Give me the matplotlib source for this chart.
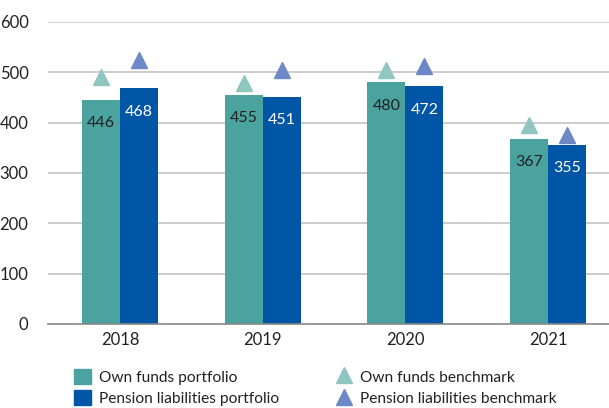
import matplotlib
matplotlib.use("Agg")
import matplotlib.pyplot as plt
from matplotlib.patches import Patch
from matplotlib.lines import Line2D
import numpy as np

years = ["2018", "2019", "2020", "2021"]
own_funds_portfolio = [446, 455, 480, 367]
pension_portfolio = [468, 451, 472, 355]
own_funds_benchmark = [490, 479, 505, 396]
pension_benchmark = [525, 505, 513, 376]
yticks = [0, 100, 200, 300, 400, 500, 600]

TEAL = "#4aa39f"
BLUE = "#0056a6"
TEAL_L = "#8fc6c2"
BLUE_L = "#6e87c7"

plt.rcParams['font.family'] = ['Lato', 'DejaVu Sans']

fig = plt.figure(figsize=(6.09, 4.08), dpi=100)
ax = fig.add_axes([48/609, 1-324/408, 1-48/609, (324-22)/408])

x = np.arange(len(years)) * 1.0
w = 0.266
ax.set_xlim(-0.505, 3.427)
ax.set_ylim(0, 600)

for yv in yticks[1:]:
    ax.axhline(yv, color="#c4c4c4", lw=1.2, zorder=0)

ax.bar(x - w/2, own_funds_portfolio, w, color=TEAL, zorder=2)
ax.bar(x + w/2, pension_portfolio, w, color=BLUE, zorder=2)

for xi, v in zip(x, own_funds_portfolio):
    ax.text(xi - w/2, v - 46, str(v), ha="center", va="center", fontsize=11.5, color="#222222", zorder=3)
for xi, v in zip(x, pension_portfolio):
    ax.text(xi + w/2, v - 46, str(v), ha="center", va="center", fontsize=11.5, color="white", zorder=3)

ax.plot(x - w/2, own_funds_benchmark, linestyle="none", marker="^", markersize=11, color=TEAL_L, zorder=3)
ax.plot(x + w/2, pension_benchmark, linestyle="none", marker="^", markersize=11, color=BLUE_L, zorder=3)

for s in ["top", "right", "left"]:
    ax.spines[s].set_visible(False)
ax.spines["bottom"].set_color("#888888")
ax.spines["bottom"].set_linewidth(1.2)
ax.set_yticks(yticks)
ax.set_yticklabels([str(t) for t in yticks])
ax.set_xticks(x)
ax.set_xticklabels(years)
ax.tick_params(axis="y", length=0, pad=14, labelsize=12, labelcolor="#222222")
ax.tick_params(axis="x", length=0, pad=6, labelsize=12, labelcolor="#222222")

handles = [
    Patch(color=TEAL, label="Own funds portfolio"),
    Patch(color=BLUE, label="Pension liabilities portfolio"),
    Line2D([], [], linestyle="none", marker="^", markersize=11, color=TEAL_L, label="Own funds benchmark"),
    Line2D([], [], linestyle="none", marker="^", markersize=11, color=BLUE_L, label="Pension liabilities benchmark"),
]
fig.legend(handles=handles, ncol=2, loc="upper left", bbox_to_anchor=(74/609, 1-369/408),
           frameon=False, fontsize=11.2, handlelength=1.1, handleheight=1.1, handletextpad=0.5,
           columnspacing=3.6, labelspacing=0.35, borderaxespad=0, borderpad=0, labelcolor="#222222")

fig.savefig("out.png", dpi=100)
